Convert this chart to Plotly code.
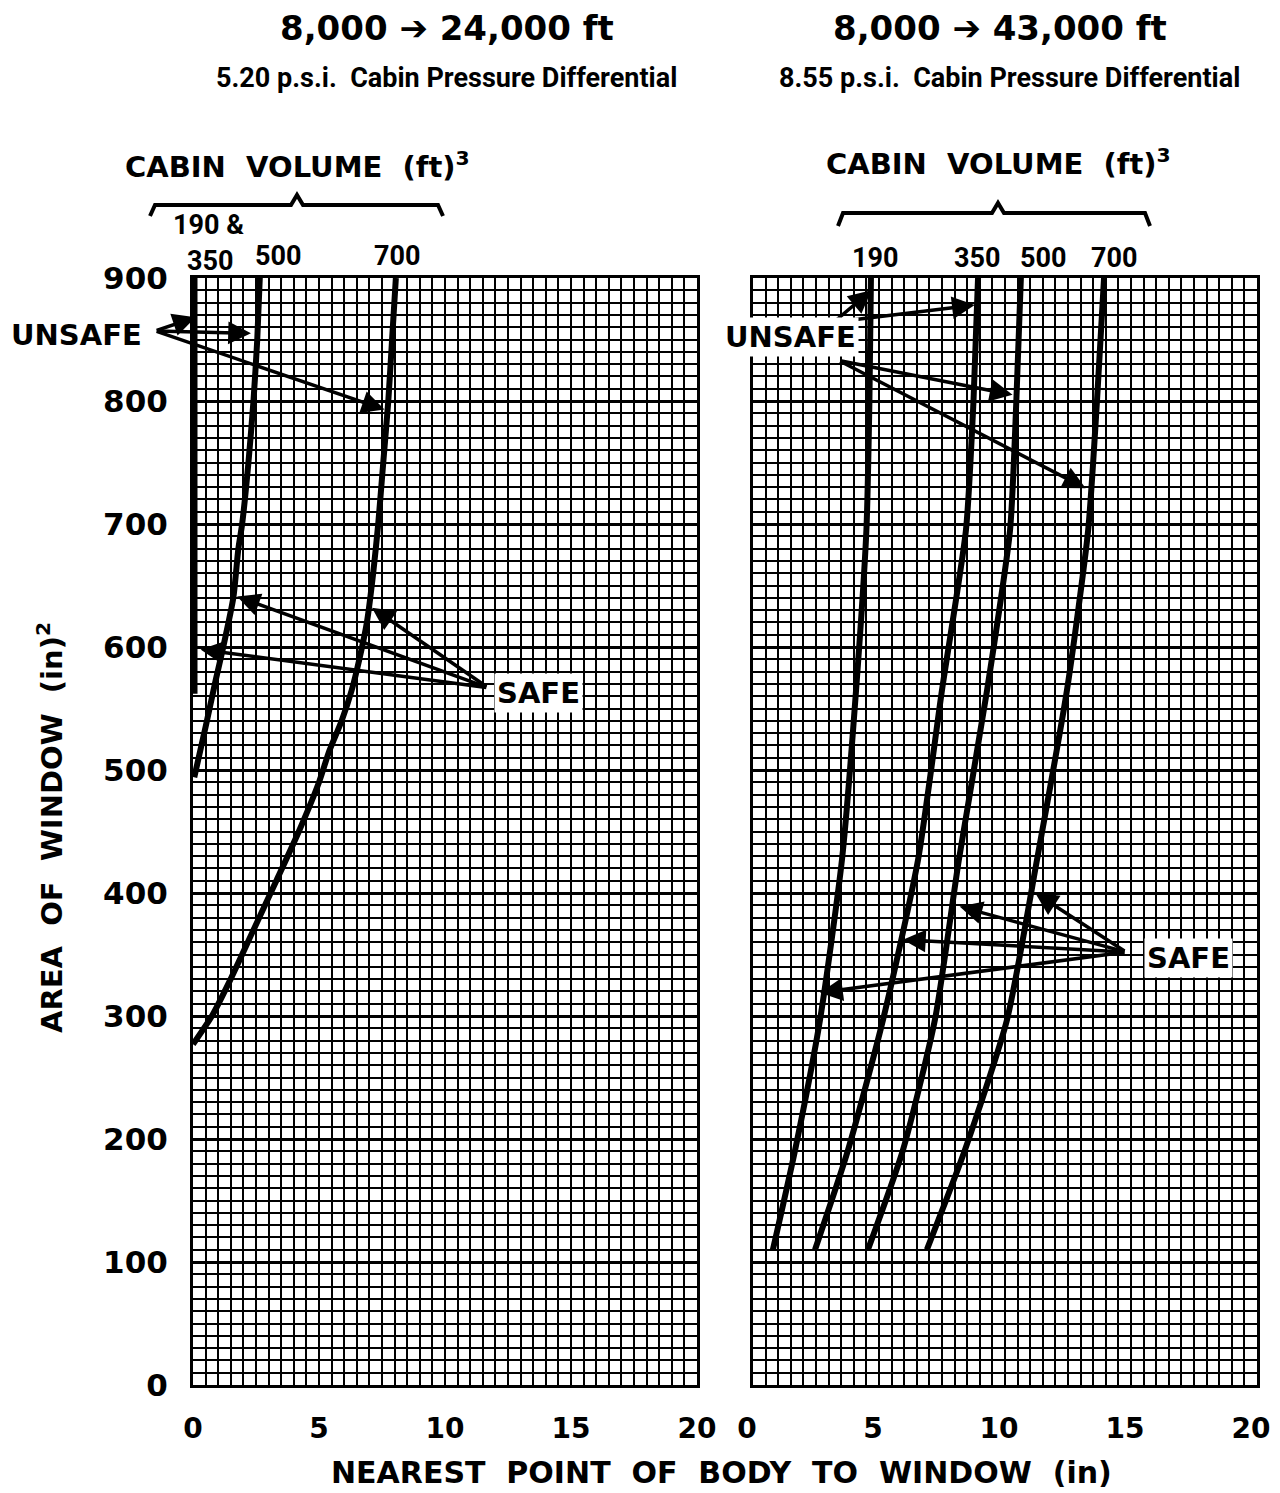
import plotly.graph_objects as go

# ---------------- data ----------------
# Left panel: 8,000 -> 24,000 ft, 5.20 psi
L_190_350_x = [0.0, 0.0]
L_190_350_y = [900, 562]
L_500_y = [900, 850, 800, 750, 700, 680, 640, 600, 573, 535, 494]
L_500_x = [2.65, 2.55, 2.4, 2.2, 1.95, 1.8, 1.6, 1.2, 0.9, 0.5, 0.05]
L_700_y = [900, 850, 800, 750, 700, 660, 620, 590, 565, 540, 515, 490, 450, 411, 370, 329, 300, 277]
L_700_x = [8.05, 7.9, 7.75, 7.55, 7.35, 7.15, 6.9, 6.6, 6.3, 5.9, 5.4, 5.0, 4.2, 3.33, 2.4, 1.47, 0.75, 0.0]

# Right panel: 8,000 -> 43,000 ft, 8.55 psi
R_y = [900, 800, 695, 565, 427, 297, 191, 110]
R_190_x = [4.68, 4.62, 4.5, 4.09, 3.53, 2.66, 1.67, 0.79]
R_350_x = [8.93, 8.75, 8.45, 7.5, 6.55, 5.16, 3.77, 2.46]
R_500_x = [10.63, 10.45, 10.2, 9.29, 8.17, 7.22, 5.95, 4.56]
R_700_x = [13.93, 13.65, 13.3, 12.46, 11.27, 10.08, 8.41, 6.9]

x_ticks = [0, 5, 10, 15, 20]
y_ticks = [0, 100, 200, 300, 400, 500, 600, 700, 800, 900]

left_curve_labels = ["190 &", "350", "500", "700"]
right_curve_labels = ["190", "350", "500", "700"]

# ---------------- figure ----------------
OFF = 8  # default body margin of the html page
W, H = 1280 - OFF, 1493 - OFF


def px(x):
    return (x - OFF) / W


def py(y):
    return 1 - (y - OFF) / H


BOLD = "DejaVu Sans"
COND = "Roboto"
LW = 6

fig = go.Figure()
for xs, ys, w in [(L_190_350_x, L_190_350_y, 9), (L_500_x, L_500_y, LW), (L_700_x, L_700_y, LW)]:
    fig.add_trace(go.Scatter(x=xs, y=ys, mode="lines", xaxis="x", yaxis="y",
                             line=dict(color="black", width=w, shape="spline", smoothing=0.6),
                             showlegend=False, hoverinfo="skip"))
for xs in [R_190_x, R_350_x, R_500_x, R_700_x]:
    fig.add_trace(go.Scatter(x=xs, y=R_y, mode="lines", xaxis="x2", yaxis="y2",
                             line=dict(color="black", width=LW, shape="spline", smoothing=0.6),
                             showlegend=False, hoverinfo="skip"))

TICKFONT = dict(family=BOLD, size=28, color="black", weight="bold")
axis_common = dict(
    range=[0, 20], tickvals=x_ticks, ticktext=[str(t) for t in x_ticks],
    showgrid=True, gridcolor="black", gridwidth=2.2,
    minor=dict(dtick=0.5, showgrid=True, gridcolor="black", gridwidth=2.2),
    showline=True, linecolor="black", linewidth=3, mirror=True,
    ticks="", zeroline=False, automargin=False,
    tickfont=TICKFONT, ticklabelstandoff=16,
)
yaxis_common = dict(
    range=[0, 900], tickvals=y_ticks,
    showgrid=True, gridcolor="black", gridwidth=3,
    minor=dict(dtick=10, showgrid=True, gridcolor="black", gridwidth=2.2),
    showline=True, linecolor="black", linewidth=3, mirror=True,
    ticks="", zeroline=False, automargin=False,
)

fig.update_layout(
    width=W, height=H,
    margin=dict(l=0, r=0, t=0, b=0, pad=0),
    paper_bgcolor="white", plot_bgcolor="white",
    xaxis=dict(domain=[px(193), px(697)], anchor="y", **axis_common),
    yaxis=dict(domain=[py(1385), py(278)], anchor="x",
               tickfont=dict(family=BOLD, size=31, color="black", weight="bold"),
               ticklabelstandoff=16, **yaxis_common),
    xaxis2=dict(domain=[px(753), px(1257)], anchor="y2", ticklabelshift=-6, **axis_common),
    yaxis2=dict(domain=[py(1385), py(278)], anchor="x2", showticklabels=False, **yaxis_common),
)

ann = []


def text(x, y, s, size, family=BOLD, weight="bold", angle=0, yanchor="middle", **kw):
    ann.append(dict(x=px(x), y=py(y), xref="paper", yref="paper", text=s, showarrow=False,
                    textangle=angle,
                    font=dict(family=family, size=size, color="black", weight=weight),
                    xanchor="center", yanchor=yanchor, **kw))


text(447, 28, "8,000 ➔ 24,000 ft", 34)
text(446, 78, "5.20 p.s.i.  Cabin Pressure Differential", 27, family=COND)
text(1000, 28, "8,000 ➔ 43,000 ft", 34)
text(1009, 78, "8.55 p.s.i.  Cabin Pressure Differential", 27, family=COND)
text(297, 165, "CABIN  VOLUME  (ft)<sup>3</sup>", 29)
text(998, 162, "CABIN  VOLUME  (ft)<sup>3</sup>", 29)

# curve labels above plots
text(208, 243, left_curve_labels[0], 27, family=COND, yanchor="bottom")
text(210, 243, left_curve_labels[1], 27, family=COND, yanchor="top")
text(278, 256, left_curve_labels[2], 27, family=COND)
text(397, 256, left_curve_labels[3], 27, family=COND)
for lab, xx in zip(right_curve_labels, [875, 977, 1043, 1114]):
    text(xx, 258, lab, 27, family=COND)

text(50, 828, "AREA  OF  WINDOW  (in)<sup>2</sup>", 29, angle=-90)
text(721, 1472, "NEAREST  POINT  OF  BODY  TO  WINDOW  (in)", 30)

# arrows: (tail x, tail y, head x, head y) in data coords
arrows_left = [(-1.5, 857, 0.1, 868), (-1.5, 857, 2.3, 855), (-1.5, 857, 7.6, 793),
               (11.7, 567, 1.75, 641), (11.7, 567, 7.1, 632), (11.7, 567, 0.3, 598)]
arrows_right = [(3.2, 864, 4.7, 890), (3.2, 864, 8.8, 878),
                (3.4, 833, 10.3, 805), (3.4, 833, 13.2, 729),
                (14.8, 352, 11.2, 400), (14.8, 352, 8.2, 389),
                (14.8, 352, 5.95, 362), (14.8, 352, 2.66, 319)]
for refs, arr in [(("x", "y"), arrows_left), (("x2", "y2"), arrows_right)]:
    for (ax_, ay_, hx, hy) in arr:
        ann.append(dict(x=hx, y=hy, ax=ax_, ay=ay_, xref=refs[0], yref=refs[1],
                        axref=refs[0], ayref=refs[1],
                        showarrow=True, arrowhead=2, arrowsize=1.3, arrowwidth=3.5,
                        arrowcolor="black", text=""))

text(76, 335, "UNSAFE", 29)
text(538, 693, "SAFE", 29, bgcolor="white", borderpad=2)
text(790, 337, "UNSAFE", 29, bgcolor="white", borderpad=2)
text(1188, 958, "SAFE", 29, bgcolor="white", borderpad=2)

fig.update_layout(annotations=ann)


def brace(x0, x1, xm, ytop, ybar, ypeak):
    pts = [(x0, ytop), (x0 + 5, ybar), (xm - 6, ybar), (xm, ypeak), (xm + 6, ybar), (x1 - 5, ybar), (x1, ytop)]
    d = "M " + " L ".join(f"{px(a):.5f},{py(b):.5f}" for a, b in pts)
    return dict(type="path", path=d, xref="paper", yref="paper",
                line=dict(color="black", width=4))


fig.update_layout(shapes=[brace(150, 443, 297, 216, 205, 195),
                          brace(838, 1150, 998, 226, 213, 203)])

fig.write_html("out.html")
